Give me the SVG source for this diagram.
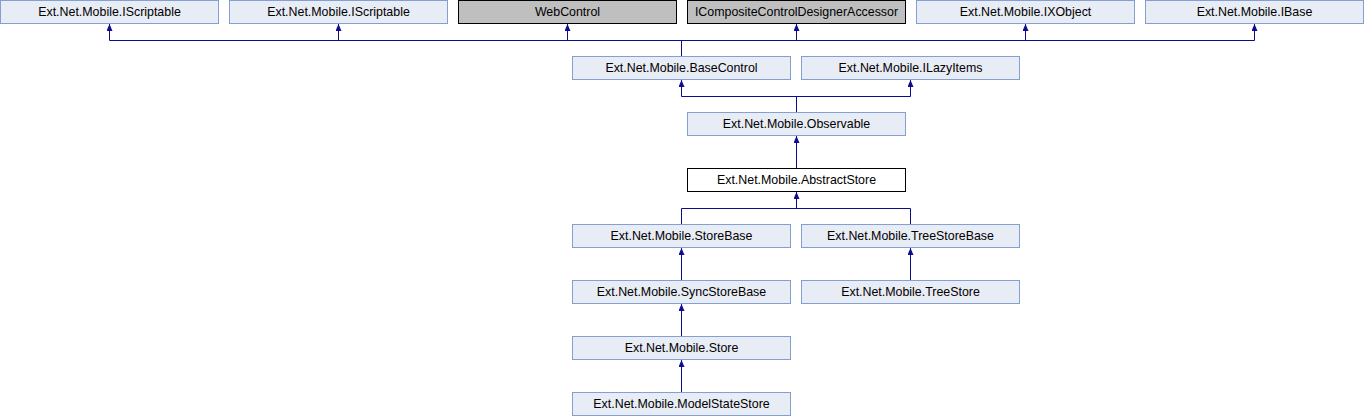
<svg xmlns="http://www.w3.org/2000/svg" width="1364" height="416" viewBox="0 0 1364 416">
<style>
.n rect{fill:#e8ecf5;stroke:#84a0d2;stroke-width:1}
.g rect{fill:#bfbfbf;stroke:#000;stroke-width:1}
.w rect{fill:#fff;stroke:#000;stroke-width:1}
text{font-family:"Liberation Sans",Arial,sans-serif;font-size:12.4px;fill:#000;text-anchor:middle}
#edges path{fill:none;stroke:#0c0c8c;stroke-width:1}
</style>
<defs>
<marker id="arr" markerUnits="userSpaceOnUse" markerWidth="7" markerHeight="6" viewBox="0 0 7 6" refX="7" refY="3" orient="auto">
<path d="M0,0 L7,3 L0,6 z" fill="#0c0c8c"/>
</marker>
</defs>
<rect width="1364" height="416" fill="#fff"/>
<g id="edges">
<path d="M109.5 40.5 H1254.5"/>
<path d="M109.5 40.5 V24" marker-end="url(#arr)"/>
<path d="M338.5 40.5 V24" marker-end="url(#arr)"/>
<path d="M567.5 40.5 V24" marker-end="url(#arr)"/>
<path d="M796.5 40.5 V24" marker-end="url(#arr)"/>
<path d="M1025.5 40.5 V24" marker-end="url(#arr)"/>
<path d="M1254.5 40.5 V24" marker-end="url(#arr)"/>
<path d="M681.5 40.5 V56"/>
<path d="M681.5 96.5 H910.5"/>
<path d="M681.5 96.5 V80" marker-end="url(#arr)"/>
<path d="M910.5 96.5 V80" marker-end="url(#arr)"/>
<path d="M796.5 96.5 V112"/>
<path d="M796.5 168 V136" marker-end="url(#arr)"/>
<path d="M681.5 208.5 H910.5"/>
<path d="M796.5 208.5 V192" marker-end="url(#arr)"/>
<path d="M681.5 208.5 V224"/>
<path d="M910.5 208.5 V224"/>
<path d="M681.5 280 V248" marker-end="url(#arr)"/>
<path d="M910.5 280 V248" marker-end="url(#arr)"/>
<path d="M681.5 336 V304" marker-end="url(#arr)"/>
<path d="M681.5 392 V360" marker-end="url(#arr)"/>
</g>
<g id="n_iscriptable1" class="n"><rect x="0.5" y="0.5" width="218" height="23"/><text x="109.5" y="16">Ext.Net.Mobile.IScriptable</text></g>
<g id="n_iscriptable2" class="n"><rect x="229.5" y="0.5" width="218" height="23"/><text x="338.5" y="16">Ext.Net.Mobile.IScriptable</text></g>
<g id="n_webcontrol" class="g"><rect x="458.5" y="0.5" width="218" height="23"/><text x="567.5" y="16">WebControl</text></g>
<g id="n_icomposite" class="g"><rect x="687.5" y="0.5" width="218" height="23"/><text x="796.5" y="16">ICompositeControlDesignerAccessor</text></g>
<g id="n_ixobject" class="n"><rect x="916.5" y="0.5" width="218" height="23"/><text x="1025.5" y="16">Ext.Net.Mobile.IXObject</text></g>
<g id="n_ibase" class="n"><rect x="1145.5" y="0.5" width="218" height="23"/><text x="1254.5" y="16">Ext.Net.Mobile.IBase</text></g>
<g id="n_basecontrol" class="n"><rect x="572.5" y="56.5" width="218" height="23"/><text x="681.5" y="72">Ext.Net.Mobile.BaseControl</text></g>
<g id="n_ilazyitems" class="n"><rect x="801.5" y="56.5" width="218" height="23"/><text x="910.5" y="72">Ext.Net.Mobile.ILazyItems</text></g>
<g id="n_observable" class="n"><rect x="687.5" y="112.5" width="218" height="23"/><text x="796.5" y="128">Ext.Net.Mobile.Observable</text></g>
<g id="n_abstractstore" class="w"><rect x="687.5" y="168.5" width="218" height="23"/><text x="796.5" y="184">Ext.Net.Mobile.AbstractStore</text></g>
<g id="n_storebase" class="n"><rect x="572.5" y="224.5" width="218" height="23"/><text x="681.5" y="240">Ext.Net.Mobile.StoreBase</text></g>
<g id="n_treestorebase" class="n"><rect x="801.5" y="224.5" width="218" height="23"/><text x="910.5" y="240">Ext.Net.Mobile.TreeStoreBase</text></g>
<g id="n_syncstorebase" class="n"><rect x="572.5" y="280.5" width="218" height="23"/><text x="681.5" y="296">Ext.Net.Mobile.SyncStoreBase</text></g>
<g id="n_treestore" class="n"><rect x="801.5" y="280.5" width="218" height="23"/><text x="910.5" y="296">Ext.Net.Mobile.TreeStore</text></g>
<g id="n_store" class="n"><rect x="572.5" y="336.5" width="218" height="23"/><text x="681.5" y="352">Ext.Net.Mobile.Store</text></g>
<g id="n_modelstatestore" class="n"><rect x="572.5" y="392.5" width="218" height="23"/><text x="681.5" y="408">Ext.Net.Mobile.ModelStateStore</text></g>
</svg>
